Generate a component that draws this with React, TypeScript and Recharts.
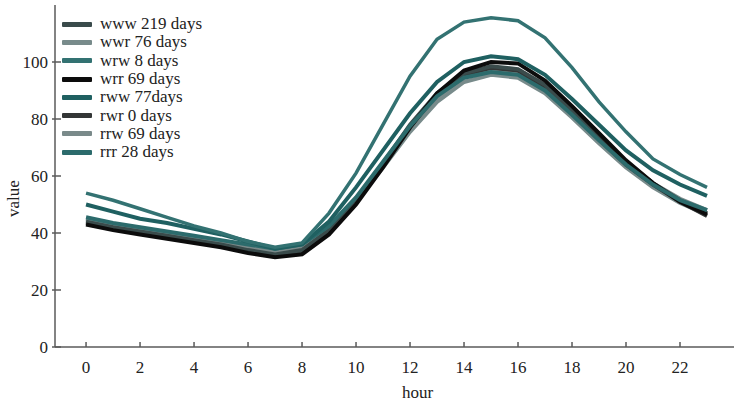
import React from 'react';
import { LineChart, Line, XAxis, YAxis, Label } from 'recharts';

// hour of day
const HOURS = [0, 1, 2, 3, 4, 5, 6, 7, 8, 9, 10, 11, 12, 13, 14, 15, 16, 17, 18, 19, 20, 21, 22, 23];

// mean value per hour, one array per weather pattern
const WWW_219 = [44, 42, 40.5, 39, 37.5, 36, 34, 32.5, 34, 41, 51.5, 64.5, 78, 89, 96, 98.5, 97.5, 92, 83, 74, 65, 57.5, 51.5, 47];
const WWR_76 = [45, 43, 41.5, 40, 38.5, 37, 35.5, 34, 35, 41.5, 51, 63, 75.5, 86, 93, 95.5, 94.5, 89, 80.5, 71.5, 63, 56, 50.5, 46.5];
const WRW_8 = [54, 51.5, 48.5, 45.5, 42.5, 40, 37, 35, 36.5, 47, 61, 78, 95, 108, 114, 115.5, 114.5, 108.5, 98, 86, 75.5, 66, 60.5, 56];
const WRR_69 = [43, 41, 39.5, 38, 36.5, 35, 33, 31.5, 32.5, 39.5, 50, 63, 77, 89, 97, 100, 99.5, 93.5, 84.5, 75, 65.5, 57.5, 51, 46.5];
const RWW_77 = [50, 47.5, 45, 43.5, 41.5, 39.5, 37, 34.5, 36, 44, 56, 69, 82, 93, 100, 102, 101, 95.5, 87, 78, 69, 62, 57, 53];
const RWR_0 = [43.5, 41.5, 40, 38.5, 37, 35.5, 33.5, 32, 33.5, 40.5, 51, 64, 77.5, 88.5, 95.5, 98, 97, 91, 82, 73, 64, 57, 51, 46];
const RRW_69 = [44.5, 42.5, 41, 39.5, 38, 36.5, 35, 33.5, 35, 41.5, 52, 64.5, 77, 87.5, 94.5, 97, 96, 90.5, 82, 73, 64.5, 57.5, 52, 48];
const RRR_28 = [45.5, 43.5, 42, 40.5, 39, 37.5, 36, 34.5, 36, 42.5, 52.5, 65, 77.5, 88, 94.5, 96.5, 95.5, 90, 81.5, 72.5, 64, 57, 51.5, 48];

const X_TICKS = [0, 2, 4, 6, 8, 10, 12, 14, 16, 18, 20, 22];
const Y_TICKS = [0, 20, 40, 60, 80, 100];

// legend order
const SERIES = [
  { key: 'www', name: 'www 219 days', values: WWW_219, color: '#3a4b4b', width: 4 },
  { key: 'wwr', name: 'wwr 76 days', values: WWR_76, color: '#788b8b', width: 4 },
  { key: 'wrw', name: 'wrw 8 days', values: WRW_8, color: '#337272', width: 3.5 },
  { key: 'wrr', name: 'wrr 69 days', values: WRR_69, color: '#0c0c0c', width: 4 },
  { key: 'rww', name: 'rww 77days', values: RWW_77, color: '#1f6061', width: 4 },
  { key: 'rwr', name: 'rwr 0 days', values: RWR_0, color: '#333636', width: 4 },
  { key: 'rrw', name: 'rrw 69 days', values: RRW_69, color: '#7a8a8a', width: 4 },
  { key: 'rrr', name: 'rrr 28 days', values: RRR_28, color: '#2c6b6c', width: 4 },
];
// paint order: greys underneath, teal on top
const DRAW_ORDER = ['wwr', 'rrw', 'rwr', 'www', 'wrr', 'rrr', 'rww', 'wrw'];

const rows = HOURS.map((h, i) => {
  const row: Record<string, number> = { hour: h };
  SERIES.forEach((s) => { row[s.key] = s.values[i]; });
  return row;
});

const FONT = '"Liberation Serif", "Times New Roman", serif';
const AXIS = '#5a5a5a';

const XTick = (props: any) => {
  const { x, y, payload } = props;
  return (
    <g>
      <line x1={x} y1={y} x2={x} y2={y - 5} stroke={AXIS} strokeWidth={1.5} />
      <text x={x} y={y + 26} textAnchor="middle" fontFamily={FONT} fontSize={17} fill="#222">{payload.value}</text>
    </g>
  );
};

const YTick = (props: any) => {
  const { x, y, payload } = props;
  return (
    <g>
      <line x1={x - 3} y1={y} x2={x + 6} y2={y} stroke={AXIS} strokeWidth={1.5} />
      <text x={x - 7} y={y + 6} textAnchor="end" fontFamily={FONT} fontSize={17} fill="#222">{payload.value}</text>
    </g>
  );
};

export default function App() {
  const drawn = DRAW_ORDER.map((k) => SERIES.find((s) => s.key === k)!);
  return (
    <div style={{ position: 'absolute', left: 0, top: 0, width: 735, height: 407, background: '#fff' }}>
      <LineChart width={735} height={407} data={rows} margin={{ top: 5, right: 1, bottom: 0, left: 0 }}>
        <XAxis
          dataKey="hour"
          type="number"
          domain={[-1.15, 24]}
          ticks={X_TICKS}
          allowDataOverflow
          height={60}
          tickSize={0}
          tickMargin={0}
          tickLine={false}
          tick={<XTick />}
          axisLine={{ stroke: AXIS, strokeWidth: 1.5 }}
        >
          <Label value="hour" position="insideBottom" offset={9} dx={23} fontFamily={FONT} fontSize={17} fill="#222" />
        </XAxis>
        <YAxis
          type="number"
          domain={[0, 120]}
          ticks={Y_TICKS}
          allowDataOverflow
          width={55}
          tickSize={0}
          tickMargin={0}
          tickLine={false}
          tick={<YTick />}
          axisLine={{ stroke: AXIS, strokeWidth: 1.5 }}
        >
          <Label value="value" angle={-90} position="insideLeft" offset={13} dy={41} fontFamily={FONT} fontSize={17} fill="#222" />
        </YAxis>
        {drawn.map((s) => (
          <Line
            key={s.key}
            dataKey={s.key}
            name={s.name}
            type="linear"
            stroke={s.color}
            strokeWidth={s.width}
            dot={false}
            activeDot={false}
            isAnimationActive={false}
          />
        ))}
      </LineChart>

      {/* legend */}
      <div style={{ position: 'absolute', left: 62, top: 15, fontFamily: FONT, fontSize: 17, color: '#222' }}>
        {SERIES.map((s) => (
          <div key={s.key} style={{ display: 'flex', alignItems: 'center', height: 18.3, whiteSpace: 'nowrap' }}>
            <div style={{ width: 30, height: 5, background: s.color, marginRight: 8, borderRadius: 1 }} />
            <span style={{ lineHeight: '18px' }}>{s.name}</span>
          </div>
        ))}
      </div>
    </div>
  );
}
